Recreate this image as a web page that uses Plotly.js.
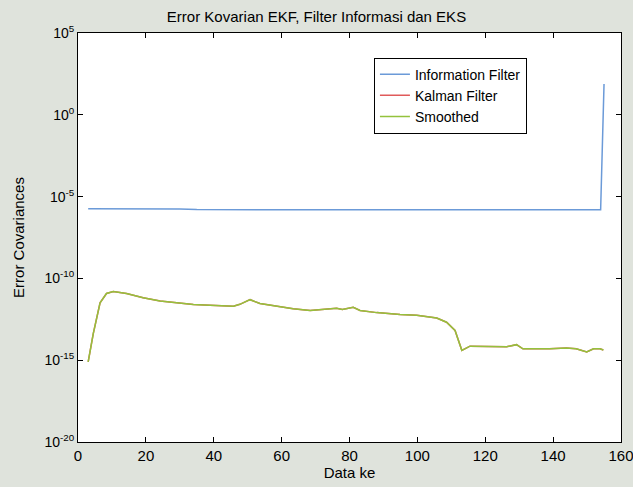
<!DOCTYPE html>
<html>
<head>
<meta charset="utf-8">
<script src="https://cdn.plot.ly/plotly-3.0.1.min.js"></script>
<style>html,body{margin:0;padding:0;background:#dfe3dc;}#chart{width:633px;height:487px;}</style>
</head>
<body>
<div id="chart"></div>
<script>
// Information Filter (blue)
const infoX = [3, 15, 30, 35, 60, 90, 120, 140, 154, 155];
const infoY = [1.8e-6, 1.8e-6, 1.75e-6, 1.6e-6, 1.6e-6, 1.6e-6, 1.6e-6, 1.55e-6, 1.55e-6, 76];

// Smoothed (green) — Kalman Filter (red) lies underneath it
const smX = [3, 4.5, 6.5, 8.4, 10.4, 14.3, 19.2, 24.2, 29.1, 34, 38.9, 43.8, 45.8, 47.7, 50.7, 53.6, 58.5, 63.4, 68.4, 73.3, 76.2, 77.9, 81.1, 83.1, 88, 94.9, 99.8, 105.7, 108.6, 111.1, 113.1, 115.5, 121.4, 126.3, 129.2, 131.1, 139, 143.9, 146.8, 149.9, 151.9, 153.8, 154.8];
const smY = [7.9e-16, 4.2e-14, 3.2e-12, 1.2e-11, 1.6e-11, 1.2e-11, 6.6e-12, 4.2e-12, 3.2e-12, 2.5e-12, 2.3e-12, 2.2e-12, 2.0e-12, 2.6e-12, 5.0e-12, 2.9e-12, 2.0e-12, 1.4e-12, 1.1e-12, 1.26e-12, 1.5e-12, 1.26e-12, 1.7e-12, 1.1e-12, 8.1e-13, 6.2e-13, 5.5e-13, 3.8e-13, 2.1e-13, 6.6e-14, 4.0e-15, 7.2e-15, 7.2e-15, 6.6e-15, 8.9e-15, 5.0e-15, 5.0e-15, 5.6e-15, 5.0e-15, 3.2e-15, 5.0e-15, 5.0e-15, 4.2e-15];
const kfX = smX;
const kfY = smY;

const yTickVals = [1e-20, 1e-15, 1e-10, 1e-5, 1, 1e5];
const yTickText = ['10<sup>-20</sup>', '10<sup>-15</sup>', '10<sup>-10</sup>', '10<sup>-5</sup>', '10<sup>0</sup>', '10<sup>5</sup>'];
const xTickVals = [0, 20, 40, 60, 80, 100, 120, 140, 160];

const traces = [
  {x: infoX, y: infoY, name: 'Information Filter', mode: 'lines', line: {color: '#6b9ad8', width: 1.5}},
  {x: kfX, y: kfY, name: 'Kalman Filter', mode: 'lines', line: {color: '#e05a5a', width: 1.5}},
  {x: smX, y: smY, name: 'Smoothed', mode: 'lines', line: {color: '#94c23c', width: 1.5}}
];

const layout = {
  width: 633, height: 487,
  paper_bgcolor: '#dfe3dc',
  plot_bgcolor: '#ffffff',
  margin: {l: 78, r: 12, t: 33, b: 45},
  font: {family: 'Arial, Liberation Sans, sans-serif', size: 14, color: '#000'},
  title: {text: 'Error Kovarian EKF, Filter Informasi dan EKS', font: {size: 15}, x: 0.5, xanchor: 'center', y: 0.966, yanchor: 'middle'},
  showlegend: true,
  legend: {x: 0.545, y: 0.94, xanchor: 'left', yanchor: 'top', bgcolor: '#ffffff', bordercolor: '#000', borderwidth: 1, font: {size: 14}, tracegroupgap: 0, itemwidth: 30},
  xaxis: {
    range: [0, 160], tickvals: xTickVals, ticks: 'inside', ticklen: 5, tickcolor: '#000',
    showline: true, linecolor: '#000', linewidth: 1, mirror: 'ticks', showgrid: false, zeroline: false,
    tickfont: {size: 15}, ticklabeloverflow: 'allow',
    title: {text: 'Data ke', font: {size: 15}, standoff: 2}
  },
  yaxis: {
    type: 'log', range: [-20, 5], tickvals: yTickVals, ticktext: yTickText, ticks: 'inside', ticklen: 5, tickcolor: '#000',
    showline: true, linecolor: '#000', linewidth: 1, mirror: 'ticks', showgrid: false, zeroline: false,
    tickfont: {size: 14}, ticklabeloverflow: 'allow',
    title: {text: 'Error Covariances', font: {size: 15}, standoff: 16}
  }
};

Plotly.newPlot('chart', traces, layout, {displayModeBar: false, staticPlot: true});
</script>
</body>
</html>
